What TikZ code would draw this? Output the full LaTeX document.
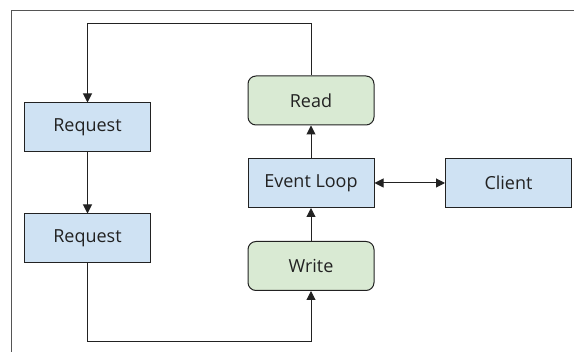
\documentclass[tikz,border=0pt]{standalone}
\usepackage{fontspec}
\setmainfont{Open Sans}
\usetikzlibrary{positioning, calc, arrows.meta}
\definecolor{Ink}{HTML}{222222}
\definecolor{Frame}{HTML}{555555}
\definecolor{BlueBox}{HTML}{CFE2F3}
\definecolor{GreenBox}{HTML}{D9EAD3}
\tikzset{
    bluenode/.style={rectangle, draw=Ink, line width=1pt, fill=BlueBox, text=Ink, minimum width=126pt, minimum height=49pt, font=\fontsize{18}{21}\selectfont},
    greennode/.style={bluenode, fill=GreenBox, rounded corners=8pt},
    arrow/.style={-{Triangle[length=9pt, width=9pt]}, line width=1pt, color=Ink},
    biarrow/.style={{Triangle[length=9pt, width=9pt]}-{Triangle[length=9pt, width=9pt]}, line width=1pt, color=Ink},
}
\begin{document}
\begin{tikzpicture}[x=1pt, y=-1pt]
    \useasboundingbox (0,0) rectangle (574,352);
    % Rahmen
    \draw[Frame, line width=1.2pt] (11.3,352) -- (11.3,10.7) -- (574,10.7);

    % Knoten
    \node[bluenode] (req1) at (87.5, 127.5) {Request};
    \node[bluenode] (req2) at (87.5, 238.5) {Request};
    \node[greennode] (read) at (311, 100.5) {Read};
    \node[bluenode] (loop) at (311, 183) {Event Loop};
    \node[greennode] (write) at (311, 266) {Write};
    \node[bluenode] (client) at (508.5, 183) {Client};

    % Knicke
    \coordinate (topbend) at (87.5, 24);
    \coordinate (botbend) at (87.5, 342);

    % Verbindungen
    \draw[arrow] (read.north) |- (topbend) -- (req1.north);
    \draw[arrow] (req1) -- (req2);
    \draw[arrow] (req2.south) -- (botbend) -| (write.south);
    \draw[arrow] (write) -- (loop);
    \draw[arrow] (loop) -- (read);
    \draw[biarrow] (loop) -- (client);
\end{tikzpicture}
\end{document}
